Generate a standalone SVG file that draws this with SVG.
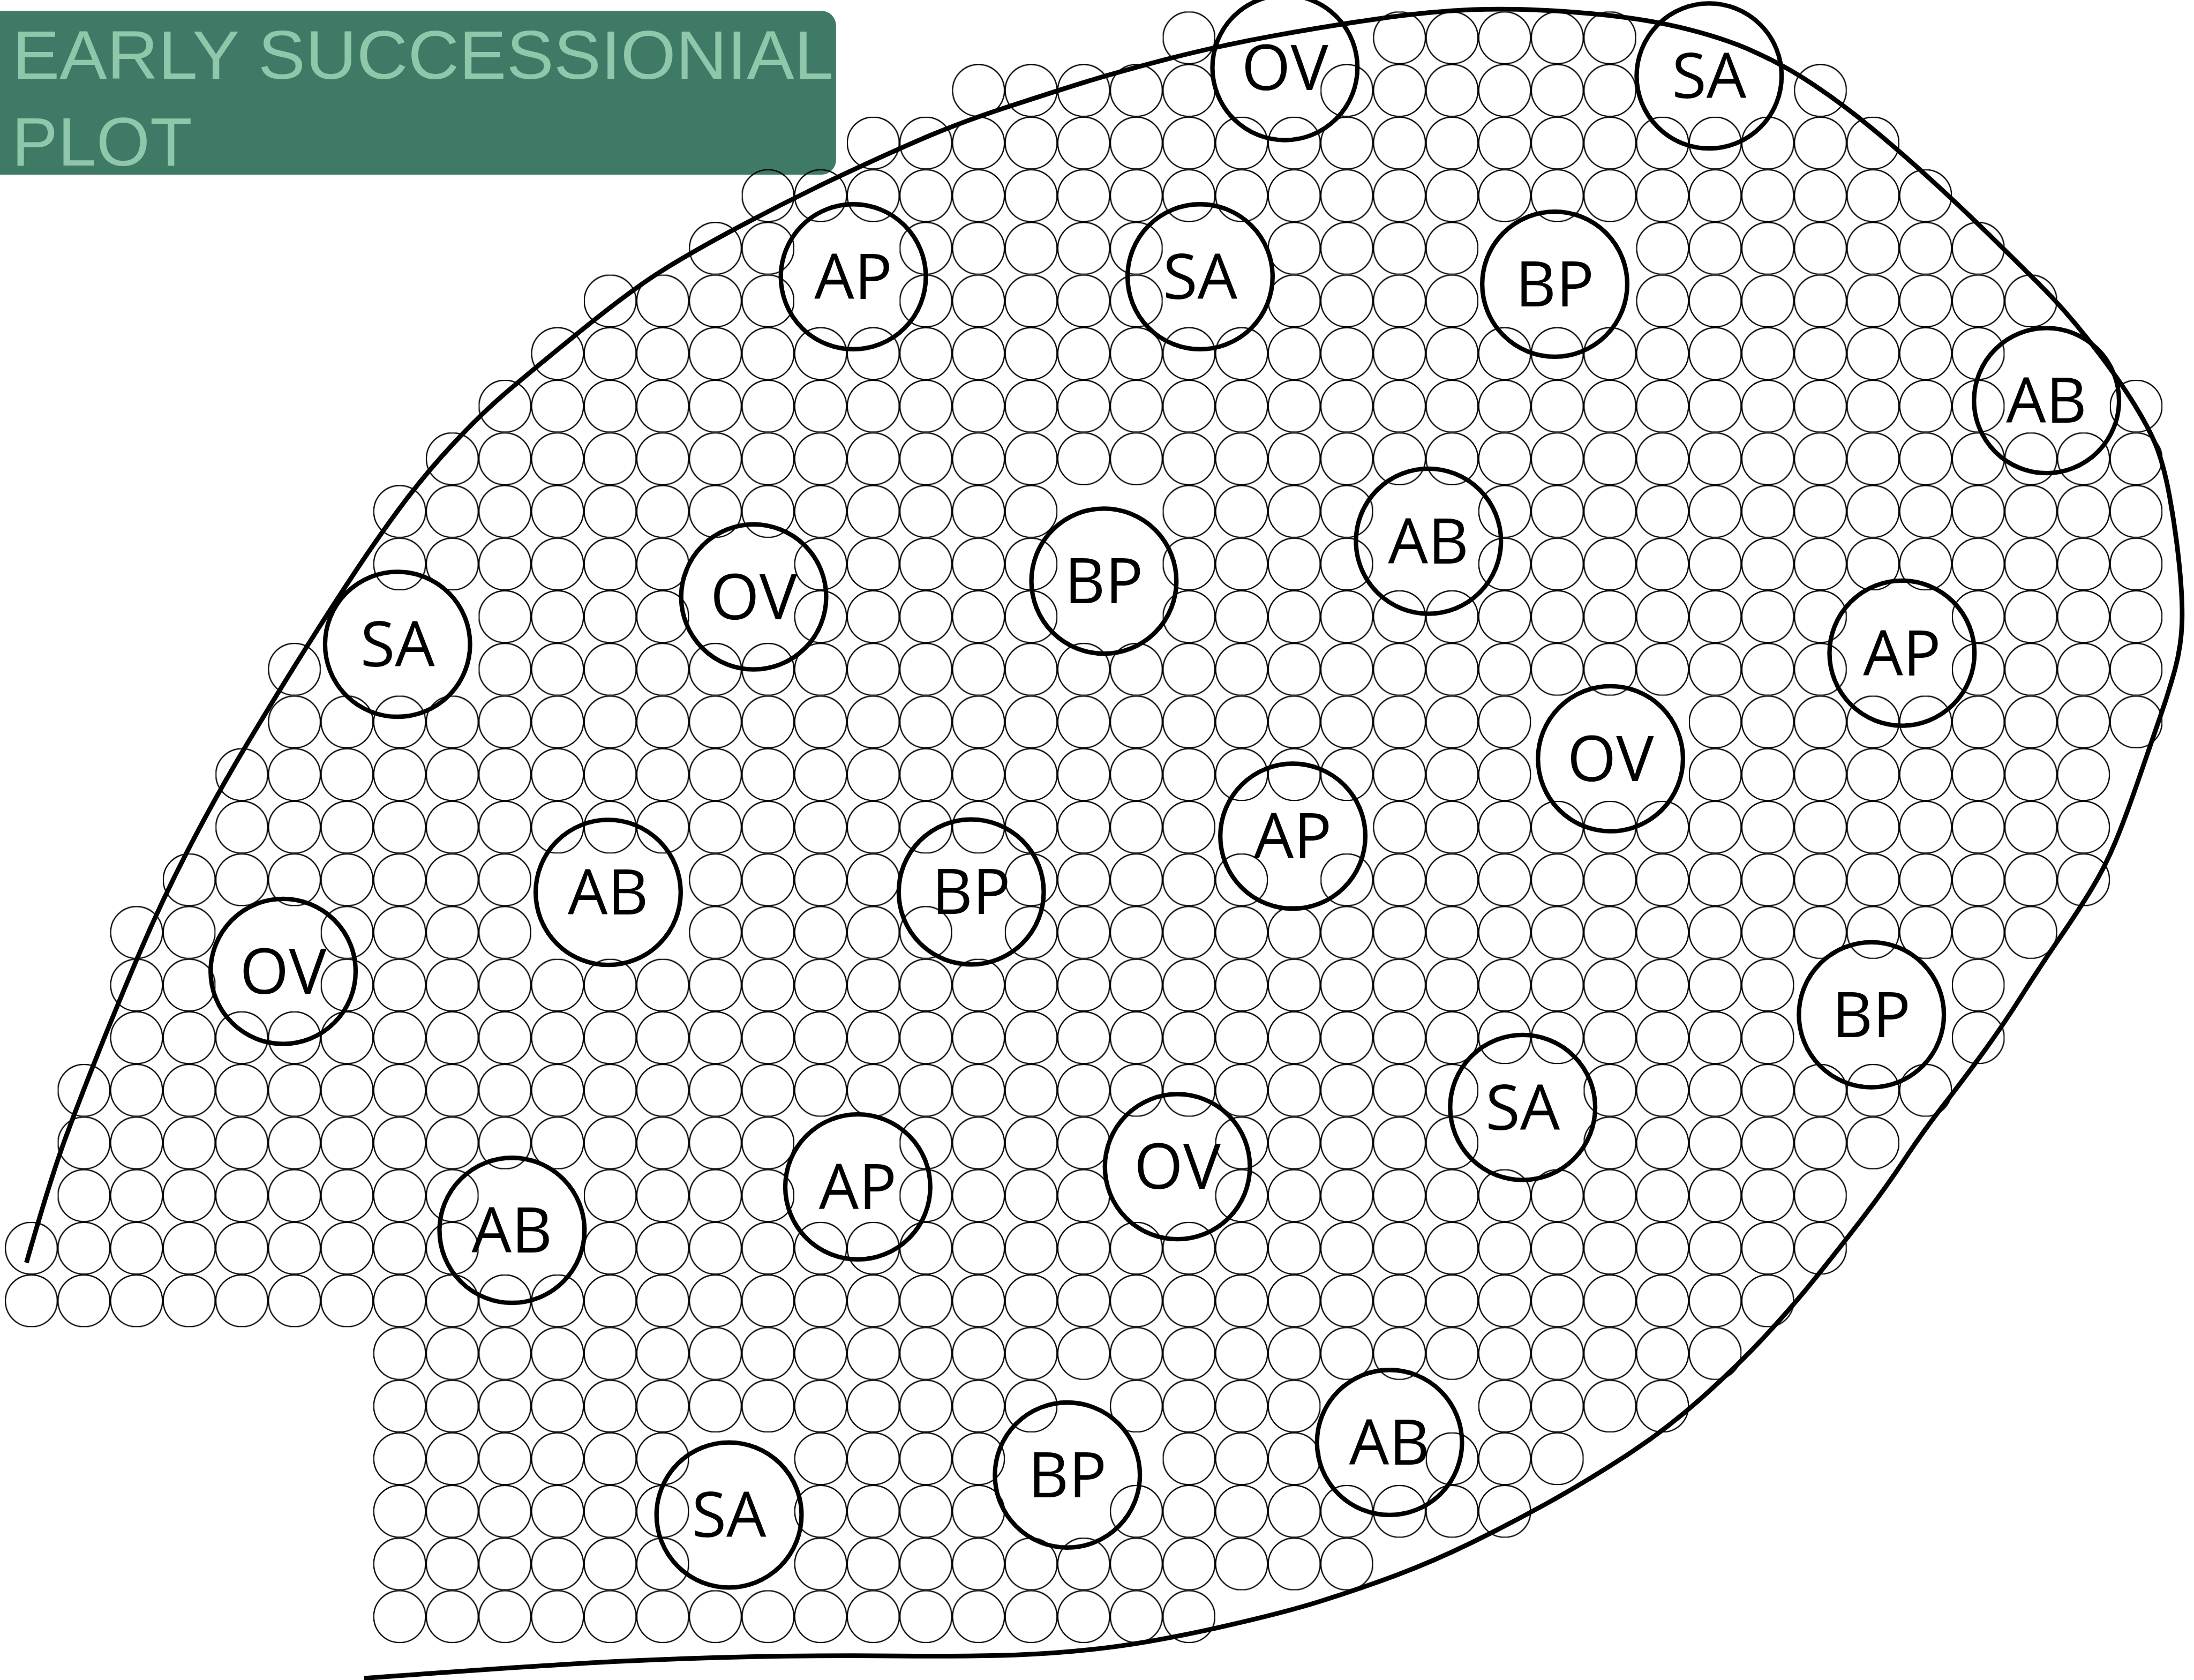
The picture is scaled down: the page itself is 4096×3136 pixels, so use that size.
<svg xmlns="http://www.w3.org/2000/svg" width="4096" height="3136" viewBox="0 0 4096 3136">
<defs>
<pattern id="cells" patternUnits="userSpaceOnUse" x="0" y="0" width="1" height="1">
<circle cx="0.5" cy="0.5" r="0.493" fill="none" stroke="#000" stroke-width="0.025"/>
</pattern>
<style>
.big{fill:none;stroke:#000;stroke-width:9}
.lbl{font-family:"Open Sans","Noto Sans","DejaVu Sans",sans-serif;font-size:128px;fill:#000;text-anchor:middle}
.edge{fill:none;stroke:#000;stroke-width:9.5}
.title{font-family:"Liberation Sans",Arial,sans-serif;font-size:140px;fill:#8ec7a9}
</style>
</defs>
<rect width="4096" height="3136" fill="#fff"/>
<g transform="scale(0.920863)">
<g id="title">
<path d="M0,22 H1665 A30,30 0 0 1 1695,52 V324 A30,30 0 0 1 1665,354 H0 Z" fill="#3f7a67"/>
<text class="title" x="25" y="160" textLength="1665" lengthAdjust="spacingAndGlyphs">EARLY SUCCESSIONIAL</text>
<text class="title" x="24" y="336">PLOT</text>
</g>
<g id="grid" transform="translate(10.16 3223.66) scale(106.68)" fill="url(#cells)">
<rect x="7" y="0" width="16" height="1"/>
<rect x="7" y="-1" width="6" height="1"/><rect x="15" y="-1" width="11" height="1"/>
<rect x="7" y="-2" width="6" height="1"/><rect x="15" y="-2" width="4" height="1"/><rect x="21" y="-2" width="8" height="1"/>
<rect x="7" y="-3" width="6" height="1"/><rect x="15" y="-3" width="4" height="1"/><rect x="22" y="-3" width="3" height="1"/><rect x="27" y="-3" width="3" height="1"/>
<rect x="7" y="-4" width="13" height="1"/><rect x="21" y="-4" width="4" height="1"/><rect x="28" y="-4" width="4" height="1"/>
<rect x="7" y="-5" width="26" height="1"/>
<rect x="0" y="-6" width="34" height="1"/>
<rect x="0" y="-7" width="9" height="1"/><rect x="11" y="-7" width="24" height="1"/>
<rect x="1" y="-8" width="8" height="1"/><rect x="11" y="-8" width="4" height="1"/><rect x="17" y="-8" width="4" height="1"/><rect x="23" y="-8" width="12" height="1"/>
<rect x="1" y="-9" width="14" height="1"/><rect x="17" y="-9" width="4" height="1"/><rect x="23" y="-9" width="5" height="1"/><rect x="30" y="-9" width="6" height="1"/>
<rect x="1" y="-10" width="27" height="1"/><rect x="30" y="-10" width="7" height="1"/>
<rect x="2" y="-11" width="32" height="1"/><rect x="37" y="-11" width="1" height="1"/>
<rect x="2" y="-12" width="2" height="1"/><rect x="6" y="-12" width="28" height="1"/><rect x="37" y="-12" width="1" height="1"/>
<rect x="2" y="-13" width="2" height="1"/><rect x="6" y="-13" width="4" height="1"/><rect x="13" y="-13" width="5" height="1"/><rect x="19" y="-13" width="20" height="1"/>
<rect x="3" y="-14" width="7" height="1"/><rect x="13" y="-14" width="4" height="1"/><rect x="19" y="-14" width="5" height="1"/><rect x="25" y="-14" width="15" height="1"/>
<rect x="4" y="-15" width="19" height="1"/><rect x="26" y="-15" width="14" height="1"/>
<rect x="4" y="-16" width="25" height="1"/><rect x="32" y="-16" width="8" height="1"/>
<rect x="5" y="-17" width="24" height="1"/><rect x="32" y="-17" width="9" height="1"/>
<rect x="5" y="-18" width="1" height="1"/><rect x="9" y="-18" width="26" height="1"/><rect x="37" y="-18" width="4" height="1"/>
<rect x="9" y="-19" width="4" height="1"/><rect x="15" y="-19" width="5" height="1"/><rect x="22" y="-19" width="13" height="1"/><rect x="37" y="-19" width="4" height="1"/>
<rect x="7" y="-20" width="6" height="1"/><rect x="15" y="-20" width="5" height="1"/><rect x="22" y="-20" width="4" height="1"/><rect x="28" y="-20" width="13" height="1"/>
<rect x="7" y="-21" width="13" height="1"/><rect x="22" y="-21" width="4" height="1"/><rect x="28" y="-21" width="13" height="1"/>
<rect x="8" y="-22" width="33" height="1"/>
<rect x="9" y="-23" width="29" height="1"/><rect x="40" y="-23" width="1" height="1"/>
<rect x="10" y="-24" width="28" height="1"/>
<rect x="11" y="-25" width="4" height="1"/><rect x="17" y="-25" width="5" height="1"/><rect x="24" y="-25" width="4" height="1"/><rect x="31" y="-25" width="8" height="1"/>
<rect x="13" y="-26" width="2" height="1"/><rect x="17" y="-26" width="5" height="1"/><rect x="24" y="-26" width="4" height="1"/><rect x="31" y="-26" width="7" height="1"/>
<rect x="14" y="-27" width="23" height="1"/>
<rect x="16" y="-28" width="20" height="1"/>
<rect x="18" y="-29" width="5" height="1"/><rect x="25" y="-29" width="6" height="1"/><rect x="34" y="-29" width="1" height="1"/>
<rect x="22" y="-30" width="1" height="1"/><rect x="26" y="-30" width="5" height="1"/>
</g>
<g id="connectors">
<path id="plot-boundary" class="edge" d="M53.6,2559.6 Q102,2390 132.65,2307 Q163.3,2224 199,2134.7 Q234.7,2045.4 280.6,1937 Q326.5,1828.6 382.65,1720.15 Q438.8,1611.7 499.9,1509.7 Q561,1407.7 617.25,1318.35 Q673.5,1229 724.5,1152.5 Q775.5,1076 821.25,1015.5 Q867,955 920.75,897.5 Q974.5,840 1022.75,798.5 Q1071,757 1173.25,674 Q1275.5,591 1337.75,551.5 Q1400,512 1505.25,456 Q1610.5,400 1715.75,350.8 Q1821,301.6 1888,273.55 Q1955,245.5 2045.8,215.75 Q2136.6,186 2198.8,166.65 Q2261,147.3 2361.45,121 Q2461.9,94.7 2576.7,73.65 Q2691.5,52.6 2795.75,37.8 Q2900,23 2988.85,19.5 Q3077.7,16 3196.2,25 Q3314.7,34 3403.55,54.95 Q3492.4,75.9 3556.55,104.95 Q3620.7,134 3679.95,174 Q3739.2,214 3793.5,258.8 Q3847.8,303.6 3907,357.15 Q3966.2,410.7 4025.45,468.75 Q4084.7,526.8 4134.1,575.9 Q4183.5,625 4232.85,687.5 Q4282.2,750 4316.75,803.5 Q4351.3,857 4368.55,897.25 Q4385.8,937.5 4398.15,1004.45 Q4410.5,1071.4 4417.9,1142.85 Q4425.3,1214.3 4423.65,1262.15 Q4422,1310 4409.9,1355 Q4397.8,1400 4381.2,1447.85 Q4364.6,1495.7 4337.3,1575.35 Q4310,1655 4288.9,1706 Q4267.8,1757 4240.6,1801.7 Q4213.4,1846.4 4174.1,1903.7 Q4134.8,1961 4098.55,2018.5 Q4062.3,2076 4023,2130.2 Q3983.7,2184.4 3941.35,2238.65 Q3899,2292.9 3861.75,2349.35 Q3824.5,2405.8 3778.6,2465.75 Q3732.7,2525.7 3681.65,2589.2 Q3630.6,2652.7 3574.5,2712.65 Q3518.4,2772.6 3446.95,2836.1 Q3375.5,2899.6 3293.85,2952.5 Q3212.2,3005.4 3135.7,3047.7 Q3059.2,3090 2982.6,3127.5 Q2906,3165 2829.5,3193.5 Q2753,3222 2676.5,3246 Q2600,3270 2471.8,3298.75 Q2343.6,3327.5 2247.8,3339.55 Q2152,3351.6 2056.5,3354.8 Q1961,3358 1817.5,3356.75 Q1674,3355.5 1530.5,3358.25 Q1387,3361 1243.5,3368.3 Q1100,3375.6 738,3402"/>
</g>
<g id="nodes">
<g id="n01-ov"><circle class="big" cx="2605" cy="137" r="147"/><text class="lbl" x="2605" y="182">OV</text></g>
<g id="n02-sa"><circle class="big" cx="3465" cy="154" r="147"/><text class="lbl" x="3465" y="199">SA</text></g>
<g id="n03-ap"><circle class="big" cx="1730" cy="561" r="147"/><text class="lbl" x="1730" y="606">AP</text></g>
<g id="n04-sa"><circle class="big" cx="2433" cy="561" r="147"/><text class="lbl" x="2433" y="606">SA</text></g>
<g id="n05-bp"><circle class="big" cx="3152" cy="576" r="147"/><text class="lbl" x="3152" y="621">BP</text></g>
<g id="n06-ab"><circle class="big" cx="4149" cy="812" r="147"/><text class="lbl" x="4149" y="857">AB</text></g>
<g id="n07-ab"><circle class="big" cx="2896" cy="1097" r="147"/><text class="lbl" x="2896" y="1142">AB</text></g>
<g id="n08-ov"><circle class="big" cx="1528" cy="1210" r="147"/><text class="lbl" x="1528" y="1255">OV</text></g>
<g id="n09-bp"><circle class="big" cx="2238" cy="1178" r="147"/><text class="lbl" x="2238" y="1223">BP</text></g>
<g id="n10-sa"><circle class="big" cx="806" cy="1306" r="147"/><text class="lbl" x="806" y="1351">SA</text></g>
<g id="n11-ap"><circle class="big" cx="3856" cy="1324" r="147"/><text class="lbl" x="3856" y="1369">AP</text></g>
<g id="n12-ov"><circle class="big" cx="3265" cy="1538" r="147"/><text class="lbl" x="3265" y="1583">OV</text></g>
<g id="n13-ap"><circle class="big" cx="2621" cy="1695" r="147"/><text class="lbl" x="2621" y="1740">AP</text></g>
<g id="n14-ab"><circle class="big" cx="1233" cy="1809" r="147"/><text class="lbl" x="1233" y="1854">AB</text></g>
<g id="n15-bp"><circle class="big" cx="1969" cy="1808" r="147"/><text class="lbl" x="1969" y="1853">BP</text></g>
<g id="n16-ov"><circle class="big" cx="574" cy="1969" r="147"/><text class="lbl" x="574" y="2014">OV</text></g>
<g id="n17-bp"><circle class="big" cx="3794" cy="2057" r="147"/><text class="lbl" x="3794" y="2102">BP</text></g>
<g id="n18-sa"><circle class="big" cx="3087" cy="2245" r="147"/><text class="lbl" x="3087" y="2290">SA</text></g>
<g id="n19-ov"><circle class="big" cx="2387" cy="2365" r="147"/><text class="lbl" x="2387" y="2410">OV</text></g>
<g id="n20-ap"><circle class="big" cx="1739" cy="2406" r="147"/><text class="lbl" x="1739" y="2451">AP</text></g>
<g id="n21-ab"><circle class="big" cx="1038" cy="2494" r="147"/><text class="lbl" x="1038" y="2539">AB</text></g>
<g id="n22-ab"><circle class="big" cx="2817" cy="2924" r="147"/><text class="lbl" x="2817" y="2969">AB</text></g>
<g id="n23-bp"><circle class="big" cx="2164" cy="2990" r="147"/><text class="lbl" x="2164" y="3035">BP</text></g>
<g id="n24-sa"><circle class="big" cx="1478" cy="3071" r="147"/><text class="lbl" x="1478" y="3116">SA</text></g>
</g>
</g>
</svg>
